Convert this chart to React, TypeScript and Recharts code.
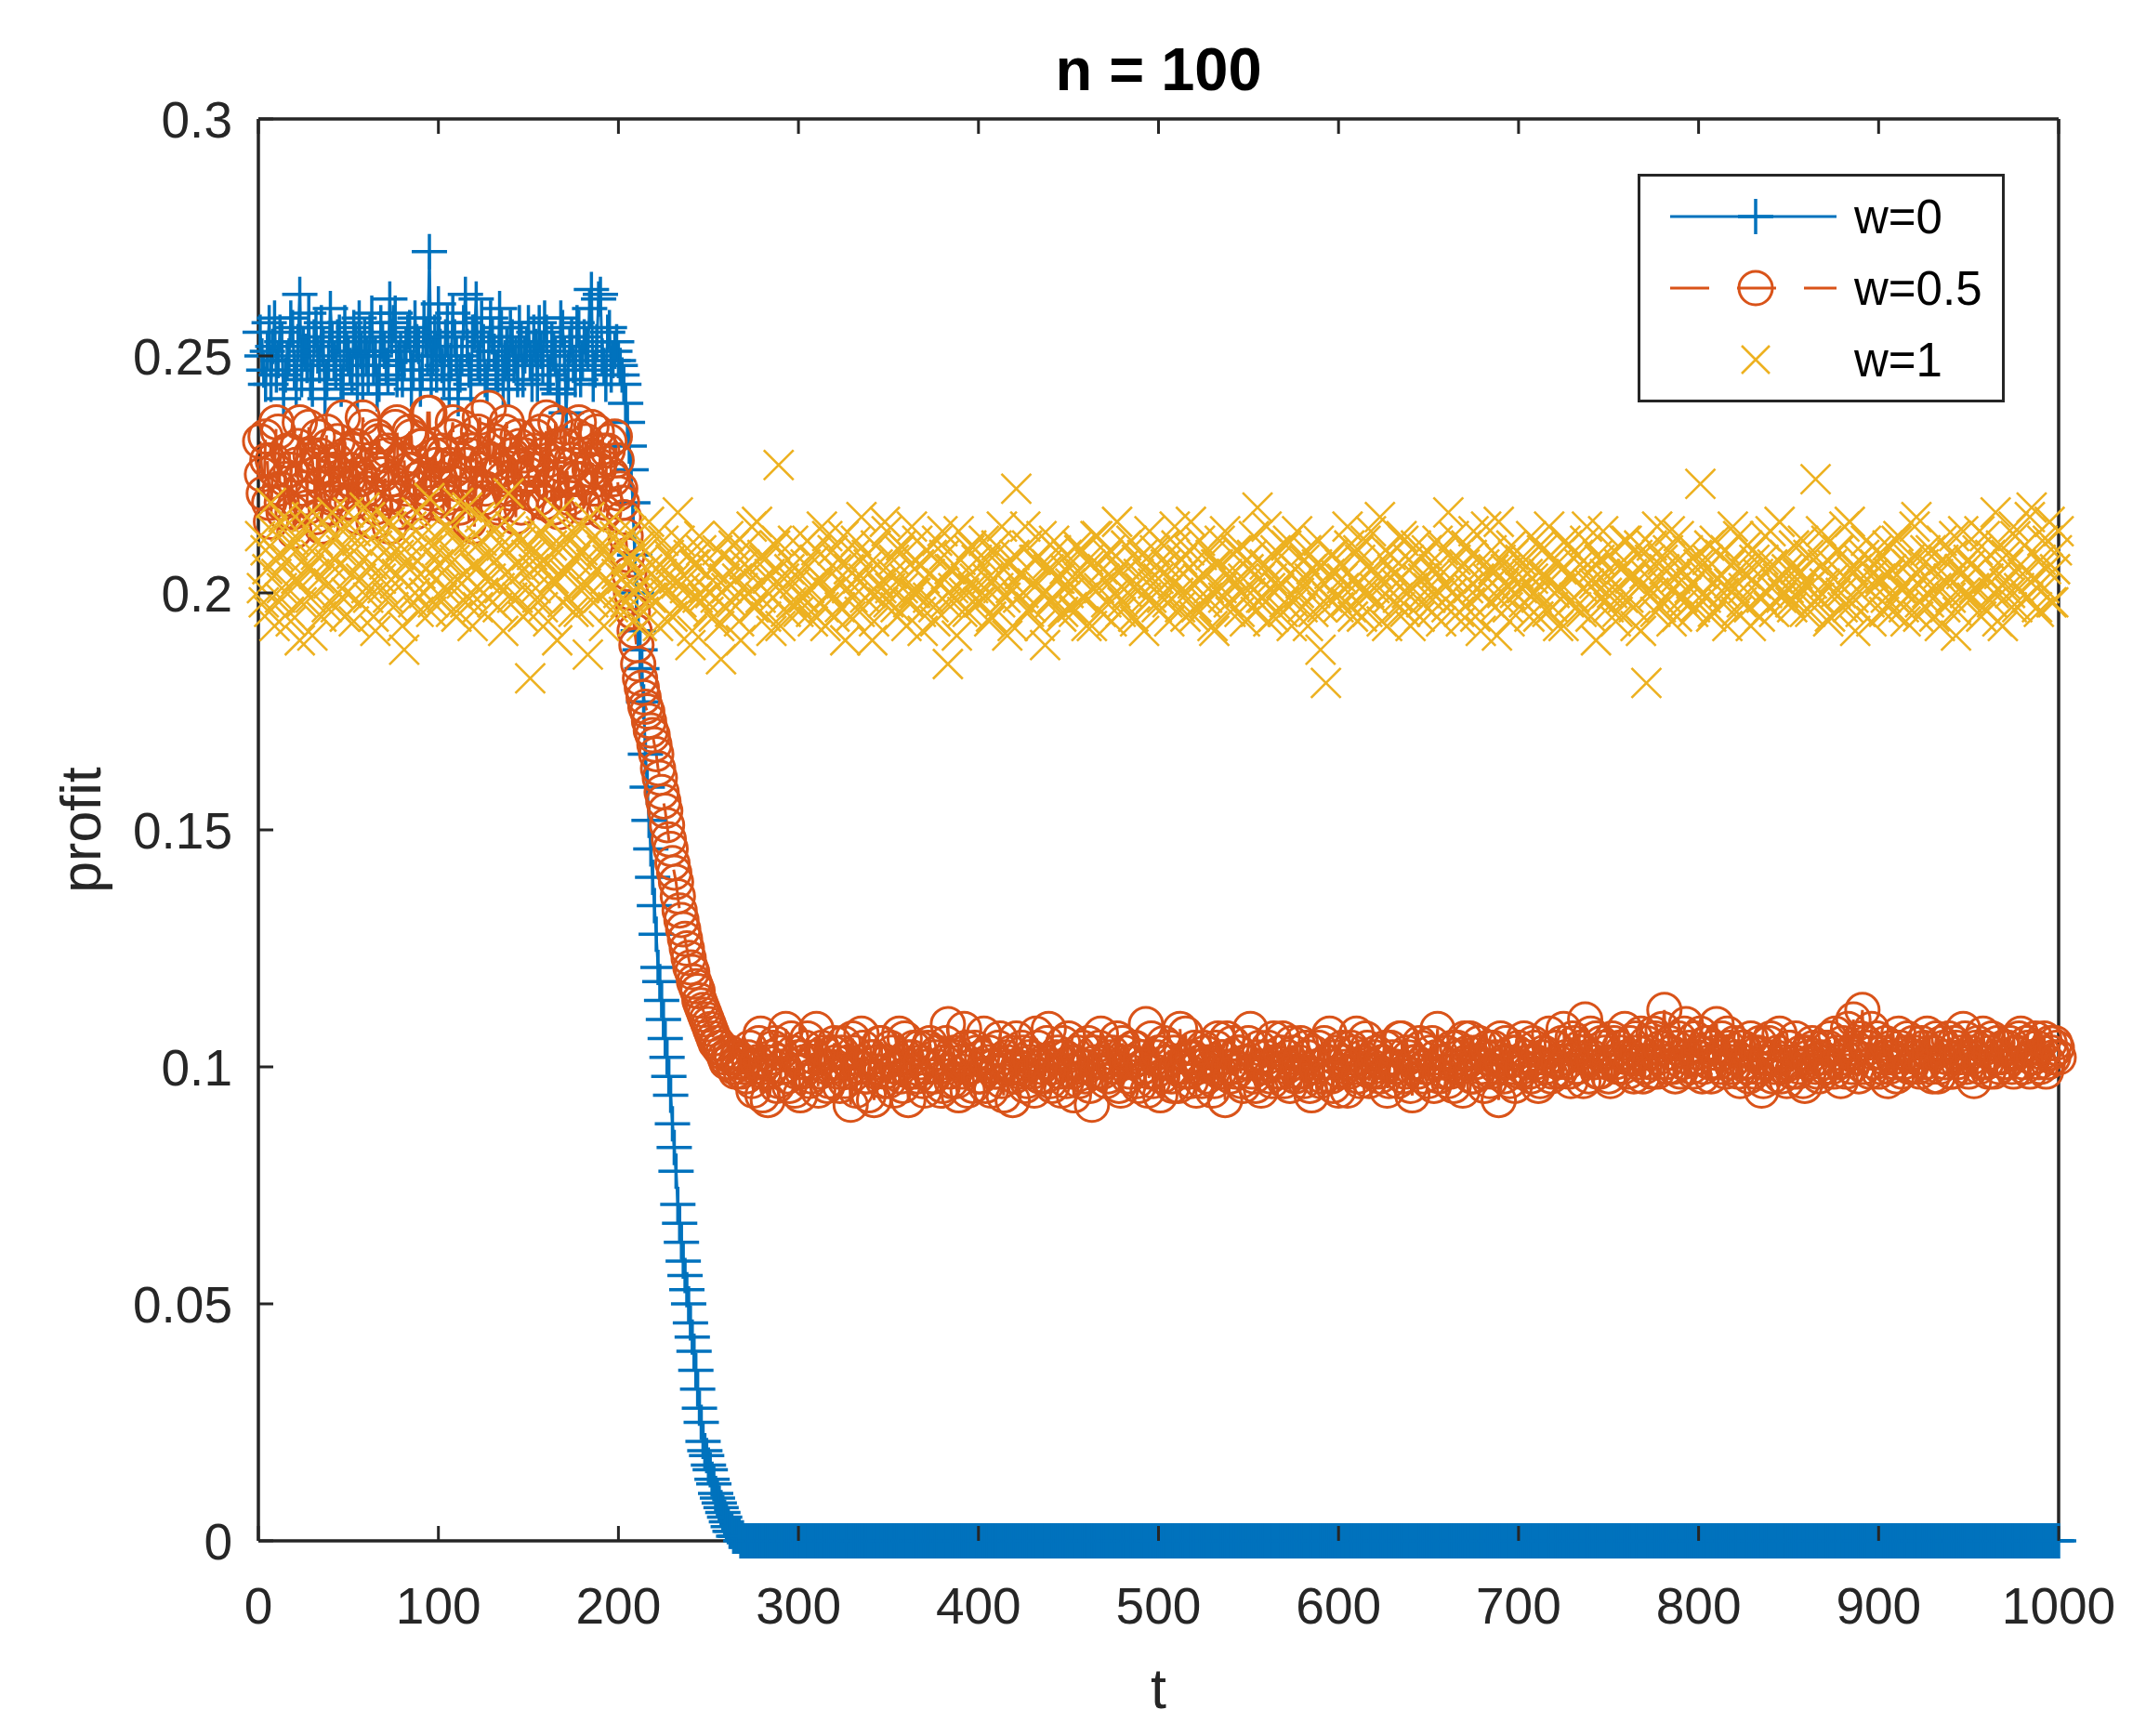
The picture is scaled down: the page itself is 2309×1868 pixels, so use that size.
import React from 'react';
import { ComposedChart, Line, XAxis, YAxis } from 'recharts';

// ---------- layout constants ----------
const CHART_W = 2309;
const CHART_H = 1868;
const MARGIN = { top: 128, right: 94, bottom: 10, left: 78 };
const Y_AXIS_W = 200;
const X_AXIS_H = 200;
const FONT = '"Liberation Sans", Arial, Helvetica, sans-serif';
const AXIS_COLOR = '#262626';
const TICK_LEN = 16;
const Y_TICK_GAP = 28;
const X_TICK_BASELINE = 89;

// ---------- data ----------
const xTicks = [0, 100, 200, 300, 400, 500, 600, 700, 800, 900, 1000];
const yTicks = [0, 0.05, 0.1, 0.15, 0.2, 0.25, 0.3];
const titleText = 'n = 100';
const xLabel = 't';
const yLabel = 'profit';
const seriesNames = ['w=0', 'w=0.5', 'w=1'];
const seriesColors = ['#0072BD', '#D95319', '#EDB120'];

// profit values in thousandths at odd t = 1, 3, 5, ..., 999
const profitW0 = [
  255,247,251,244,258,249,253,246,250,256,243,263,252,248,245,254,250,257,241,249,253,247,255,244,251,
  248,256,242,251,254,246,259,250,244,253,248,262,257,245,251,249,255,243,258,252,247,254,272,250,246,
  252,245,257,249,254,241,250,263,247,255,262,248,253,244,258,251,246,256,249,243,254,250,257,245,252,
  249,255,244,251,258,246,253,250,242,256,238,252,248,257,245,254,251,264,247,262,250,244,256,249,253,
  248,244,236,226,208,192,184,166,152,140,128,118,110,102,94,83,71,63,56,50,43,36,28,21,18,15,12,9,7,5,3,2,1,1,0,
  0,0,0,0,0,0,0,0,0,0,0,0,0,0,0,0,0,0,0,0,0,0,0,0,0,
  0,0,0,0,0,0,0,0,0,0,0,0,0,0,0,0,0,0,0,0,0,0,0,0,0,
  0,0,0,0,0,0,0,0,0,0,0,0,0,0,0,0,0,0,0,0,0,0,0,0,0,
  0,0,0,0,0,0,0,0,0,0,0,0,0,0,0,0,0,0,0,0,0,0,0,0,0,
  0,0,0,0,0,0,0,0,0,0,0,0,0,0,0,0,0,0,0,0,0,0,0,0,0,
  0,0,0,0,0,0,0,0,0,0,0,0,0,0,0,0,0,0,0,0,0,0,0,0,0,
  0,0,0,0,0,0,0,0,0,0,0,0,0,0,0,0,0,0,0,0,0,0,0,0,0,
  0,0,0,0,0,0,0,0,0,0,0,0,0,0,0,0,0,0,0,0,0,0,0,0,0,
  0,0,0,0,0,0,0,0,0,0,0,0,0,0,0,0,0,0,0,0,0,0,0,0,0,
  0,0,0,0,0,0,0,0,0,0,0,0,0,0,0,0,0,0,0,0,0,0,0,0,0,
  0,0,0,0,0,0,0,0,0,0,0,0,0,0,0,0,0,0,0,0,0,0,0,0,0,
  0,0,0,0,0,0,0,0,0,0,0,0,0,0,0,0,0,0,0,0,0,0,0,0,0,
  0,0,0,0,0,0,0,0,0,0,0,0,0,0,0,0,0,0,0,0,0,0,0,0,0,
  0,0,0,0,0,0,0,0,0,0,0,0,0,0,0,0,0,0,0,0,0,0,0,0,0,
  0,0,0,0,0,0,0,0,0,0,0,0,0,0,0,
];

// profit values in thousandths at even t = 2, 4, 6, ..., 1000
const profitW0Even = [
  250,244,257,252,246,255,241,249,258,247,253,245,251,259,243,256,248,252,245,260,249,254,243,257,250,
  246,253,258,244,250,255,248,242,257,251,246,254,259,249,245,252,256,247,253,243,258,250,245,255,261,
  248,254,243,259,250,246,257,252,244,255,249,258,245,251,254,247,260,243,252,256,248,245,253,250,257,
  244,252,257,248,255,246,251,243,258,250,247,254,245,256,249,252,260,244,253,263,248,255,246,251,249,
  246,240,231,219,200,188,177,159,146,134,121,114,106,98,88,78,67,59,53,46,40,32,25,19,16,13,10,8,6,4,2,1,1,0,0,
  0,0,0,0,0,0,0,0,0,0,0,0,0,0,0,0,0,0,0,0,0,0,0,0,0,
  0,0,0,0,0,0,0,0,0,0,0,0,0,0,0,0,0,0,0,0,0,0,0,0,0,
  0,0,0,0,0,0,0,0,0,0,0,0,0,0,0,0,0,0,0,0,0,0,0,0,0,
  0,0,0,0,0,0,0,0,0,0,0,0,0,0,0,0,0,0,0,0,0,0,0,0,0,
  0,0,0,0,0,0,0,0,0,0,0,0,0,0,0,0,0,0,0,0,0,0,0,0,0,
  0,0,0,0,0,0,0,0,0,0,0,0,0,0,0,0,0,0,0,0,0,0,0,0,0,
  0,0,0,0,0,0,0,0,0,0,0,0,0,0,0,0,0,0,0,0,0,0,0,0,0,
  0,0,0,0,0,0,0,0,0,0,0,0,0,0,0,0,0,0,0,0,0,0,0,0,0,
  0,0,0,0,0,0,0,0,0,0,0,0,0,0,0,0,0,0,0,0,0,0,0,0,0,
  0,0,0,0,0,0,0,0,0,0,0,0,0,0,0,0,0,0,0,0,0,0,0,0,0,
  0,0,0,0,0,0,0,0,0,0,0,0,0,0,0,0,0,0,0,0,0,0,0,0,0,
  0,0,0,0,0,0,0,0,0,0,0,0,0,0,0,0,0,0,0,0,0,0,0,0,0,
  0,0,0,0,0,0,0,0,0,0,0,0,0,0,0,0,0,0,0,0,0,0,0,0,0,
  0,0,0,0,0,0,0,0,0,0,0,0,0,0,0,0,0,0,0,0,0,0,0,0,0,
  0,0,0,0,0,0,0,0,0,0,0,0,0,0,0,
];

const profitW05 = [
  232,221,228,215,226,234,219,224,230,217,227,236,222,218,229,225,233,214,226,231,220,228,223,237,219,
  226,230,216,224,235,221,227,218,232,225,229,214,223,236,220,228,226,233,217,224,231,222,238,219,227,
  224,229,218,233,226,221,235,227,215,230,223,237,220,228,225,232,218,226,234,222,229,216,231,224,227,
  221,230,226,234,219,228,223,236,217,225,231,220,227,233,224,218,229,235,222,226,230,219,232,224,228,
  222,216,208,200,192,185,180,176,173,170,166,161,156,151,146,141,136,131,127,123,120,117,114,112,110,108,106,105,104,102,101,102,99,101,100,
  98,104,95,101,107,99,93,102,105,97,100,108,96,103,99,94,101,106,98,102,95,104,100,97,103,
  101,96,105,99,92,103,100,107,98,94,102,99,105,97,101,104,95,100,98,106,93,102,99,104,97,
  100,105,98,103,95,101,109,97,102,94,99,104,100,96,103,98,107,101,95,99,104,97,102,100,93,
  106,99,103,97,101,95,104,100,98,108,96,102,99,105,97,101,94,103,100,98,105,92,101,104,99,
  97,102,100,106,95,103,98,101,104,96,100,109,99,97,102,94,105,101,98,103,96,100,107,99,102,
  95,101,104,98,100,97,106,102,93,100,105,99,103,96,101,108,98,102,95,100,104,97,101,99,106,
  100,96,103,99,105,97,102,94,100,104,98,101,107,96,103,99,101,95,104,100,98,102,106,97,100,
  103,98,101,95,104,100,97,106,99,102,94,101,105,98,100,103,96,108,101,99,97,104,100,102,95,
  101,106,98,103,100,96,104,99,102,93,101,105,97,100,103,99,106,101,98,104,96,102,100,107,99,
  104,99,108,101,97,105,100,103,110,98,102,106,99,104,101,97,105,100,103,108,99,102,106,101,98,
  105,101,107,99,104,112,100,103,98,106,101,109,104,99,102,107,100,105,98,103,101,106,99,104,100,
  102,97,104,100,106,99,103,95,101,105,98,102,107,100,97,104,101,99,103,96,102,105,100,98,104,
  101,106,99,103,97,102,108,100,104,98,112,105,99,103,106,100,102,97,104,101,107,99,103,100,105,
  102,99,104,107,100,103,98,105,101,106,99,104,102,108,100,103,97,105,101,104,99,106,102,100,104,
  101,105,99,103,107,100,104,102,106,101,103,99,105,102,104,
];

const profitW05Even = [
  225,233,219,228,236,222,217,230,226,213,231,224,220,235,227,216,229,223,234,218,226,232,221,229,224,
  219,231,225,237,222,228,215,233,226,220,230,224,235,217,228,222,234,226,219,231,225,238,221,229,223,
  230,220,227,236,223,218,232,225,229,214,234,226,222,239,228,219,231,224,236,221,227,233,218,229,225,
  226,233,220,229,237,223,218,231,227,235,221,228,224,236,219,232,226,222,234,228,217,230,225,233,221,
  219,212,204,196,189,182,178,175,171,168,163,158,154,148,143,139,133,129,125,121,118,116,113,111,109,107,105,104,103,101,103,100,102,99,101,
  102,97,100,105,94,101,99,104,96,103,100,98,106,95,102,99,104,97,101,108,99,103,96,100,105,
  99,103,97,101,106,95,100,104,98,102,93,101,105,99,97,103,100,107,96,102,99,104,98,101,95,
  104,98,102,100,96,105,99,103,97,101,108,95,100,104,98,102,96,103,100,99,106,94,101,103,98,
  100,104,96,102,99,107,98,101,105,97,100,103,95,102,106,99,101,97,104,100,96,103,99,107,101,
  98,103,100,96,105,101,99,104,97,102,100,95,106,99,103,98,101,104,96,100,108,99,102,97,104,
  100,97,103,101,95,104,99,102,106,98,100,103,97,101,105,99,96,104,100,102,98,106,99,103,97,
  102,105,98,101,99,104,96,103,100,97,105,101,98,102,95,104,100,99,103,107,97,101,104,99,102,
  99,101,104,97,102,100,106,98,103,96,101,99,104,100,97,105,102,98,101,103,99,96,104,100,106,
  103,98,101,105,99,102,97,104,100,106,98,101,103,96,104,100,102,99,105,101,97,103,100,98,104,
  101,105,102,99,106,100,104,97,102,107,101,99,105,103,98,106,101,104,100,102,105,98,103,107,100,
  103,99,106,102,108,101,105,100,104,99,107,102,100,106,103,98,105,101,104,109,100,103,107,101,105,
  99,104,101,98,103,100,105,97,102,106,100,103,98,101,104,99,106,100,97,103,101,104,99,102,100,
  104,100,107,101,105,99,103,110,102,106,100,104,108,101,99,103,105,100,102,98,104,101,106,100,103,
  100,105,101,103,98,106,100,104,102,99,105,101,103,106,99,102,104,100,107,101,103,99,105,102,101,
  104,100,103,106,101,105,99,102,104,100,106,101,103,105,102,
];

const profitW1 = [
  212,198,205,219,193,208,201,214,196,210,203,190,207,216,199,204,211,195,209,202,217,197,206,213,200,
  208,194,211,203,218,199,206,192,213,201,209,215,197,204,210,188,207,214,200,196,212,205,220,198,203,
  209,201,214,196,207,219,202,198,211,193,205,216,200,208,203,213,197,210,204,221,199,206,212,195,208,
  182,205,199,213,207,194,210,202,217,198,205,211,196,208,214,201,187,206,212,199,209,203,215,197,204,
  210,196,207,213,200,204,193,209,215,199,205,202,211,194,207,203,217,198,201,208,192,206,212,199,204,
  200,195,209,186,203,212,198,206,194,201,210,205,197,215,199,207,203,192,210,227,201,196,205,211,198,
  204,199,211,196,207,202,214,193,200,209,205,197,212,201,195,208,203,216,199,206,190,210,202,198,213,
  201,207,195,210,203,198,214,200,206,192,209,204,197,211,202,208,185,205,199,213,196,203,209,201,207,
  198,211,203,195,208,201,214,199,206,193,222,204,200,210,197,207,202,212,189,205,199,209,203,196,208,
  202,196,210,204,199,207,193,212,201,205,198,209,203,215,196,206,200,211,194,204,208,199,213,202,197,
  205,210,198,203,214,200,207,195,209,202,197,211,204,199,208,192,206,201,213,198,204,209,196,203,207,
  200,212,218,199,206,194,203,209,201,196,210,204,198,213,202,207,193,205,200,211,197,181,204,208,199,
  206,201,214,197,203,209,195,211,200,205,198,216,202,193,208,204,199,212,196,207,201,210,195,203,209,
  199,205,211,194,202,217,200,207,196,204,210,198,213,201,192,206,203,209,197,215,200,205,194,208,202,
  207,198,204,212,200,195,209,203,214,197,206,201,193,210,204,199,208,196,211,202,205,190,207,213,200,
  203,209,196,205,211,199,204,193,210,202,181,207,200,214,197,205,209,194,203,212,199,206,201,196,208,
  223,200,207,195,211,203,198,209,202,214,196,205,201,210,193,207,204,199,212,197,206,202,215,200,205,
  198,210,204,201,196,208,202,224,199,206,211,195,203,209,200,214,197,205,192,207,202,211,198,204,209,
  203,196,210,205,199,212,201,194,207,203,216,198,206,200,209,195,204,211,197,203,208,191,205,213,199,
  206,201,209,195,212,203,198,217,204,193,208,200,214,197,206,210,199,218,203,196,211,205,215,198,209,
];

const profitW1Even = [
  201,209,196,213,204,199,216,207,194,211,202,198,214,205,191,208,203,215,197,206,212,200,209,195,217,
  204,213,198,207,201,216,195,210,203,206,199,214,202,208,193,211,205,198,217,204,200,209,196,212,206,
  199,207,213,202,195,210,204,218,200,206,197,211,203,215,198,207,201,192,209,214,203,199,211,205,196,
  208,201,212,197,206,215,203,190,210,204,199,213,207,196,209,202,216,198,205,210,193,207,201,212,200,
  203,198,207,194,201,210,196,205,199,212,193,204,200,208,195,202,211,197,203,189,206,199,209,201,196,
  205,199,193,208,201,196,210,203,190,206,200,214,197,202,208,195,204,199,211,193,203,207,198,202,196,
  199,206,201,194,209,203,197,212,200,195,207,202,190,205,199,211,196,203,208,200,194,206,201,215,198,
  204,197,209,201,193,206,200,211,196,203,199,208,194,202,213,198,205,201,191,207,200,196,210,203,198,
  200,207,194,203,210,198,205,191,201,208,199,204,214,196,202,207,193,200,206,198,211,203,195,205,200,
  197,204,209,199,193,206,201,212,196,203,208,194,200,205,198,210,202,195,207,201,192,204,199,209,203,
  199,206,194,202,210,197,204,200,215,195,203,208,198,201,193,206,211,199,204,196,202,209,200,194,205,
  208,196,203,199,214,201,195,207,202,198,211,193,205,200,197,209,203,196,206,188,202,199,208,204,197,
  203,198,210,195,202,207,200,196,213,201,204,194,209,199,205,202,197,211,200,193,206,203,198,208,201,
  196,204,200,209,197,203,212,199,194,206,201,208,195,203,200,214,198,205,191,207,202,197,210,200,204,
  201,207,195,203,199,210,204,196,208,200,193,205,211,198,203,197,206,201,214,195,202,208,199,204,197,
  200,194,206,199,211,203,197,208,192,204,200,210,196,203,207,199,213,201,195,205,198,209,202,197,206,
  204,199,210,196,203,208,200,193,206,201,212,198,204,197,209,202,195,207,200,213,196,203,199,208,201,
  197,205,200,211,203,196,207,199,213,202,194,206,200,209,197,203,215,199,205,196,208,201,194,206,202,
  208,199,204,196,211,201,197,206,200,214,195,203,209,198,205,201,193,207,202,199,212,196,204,200,207,
  199,205,213,197,203,208,200,194,210,202,206,197,212,201,204,199,216,203,197,207,201,211,198,205,213,
];

// table for the chart: t = 1, 2, 3, ..., 1000
const chartData: { t: number; w0: number; w05: number; w1: number }[] = [];
profitW0.forEach((v, i) => {
  chartData.push({ t: 2 * i + 1, w0: v / 1000, w05: profitW05[i] / 1000, w1: profitW1[i] / 1000 });
  chartData.push({
    t: 2 * i + 2,
    w0: profitW0Even[i] / 1000,
    w05: profitW05Even[i] / 1000,
    w1: profitW1Even[i] / 1000,
  });
});

// ---------- markers ----------
const PLUS_HALF = 19;
const CIRCLE_R = 18;
const CROSS_HALF = 16;

const plusPath = (cx: number, cy: number, h: number) =>
  `M${cx - h},${cy}H${cx + h}M${cx},${cy - h}V${cy + h}`;
const crossPath = (cx: number, cy: number, h: number) =>
  `M${cx - h},${cy - h}L${cx + h},${cy + h}M${cx - h},${cy + h}L${cx + h},${cy - h}`;

const renderPlus = (p: any) => {
  if (p.cx == null || p.cy == null) return <g key={`p${p.index}`} />;
  return (
    <path key={`p${p.index}`} d={plusPath(p.cx, p.cy, PLUS_HALF)} stroke={seriesColors[0]} strokeWidth={3.5} fill="none" />
  );
};
const renderCircle = (p: any) => {
  if (p.cx == null || p.cy == null) return <g key={`c${p.index}`} />;
  return (
    <circle key={`c${p.index}`} cx={p.cx} cy={p.cy} r={CIRCLE_R} stroke={seriesColors[1]} strokeWidth={3} fill="none" />
  );
};
const renderCross = (p: any) => {
  if (p.cx == null || p.cy == null) return <g key={`x${p.index}`} />;
  return (
    <path key={`x${p.index}`} d={crossPath(p.cx, p.cy, CROSS_HALF)} stroke={seriesColors[2]} strokeWidth={2.6} fill="none" />
  );
};

// ---------- ticks ----------
const LeftTick = (p: any) => {
  const axisX = p.x + Y_TICK_GAP;
  return (
    <g>
      <line x1={axisX} y1={p.y} x2={axisX + TICK_LEN} y2={p.y} stroke={AXIS_COLOR} strokeWidth={3} />
      <text x={p.x} y={p.y} dy="0.36em" textAnchor="end" fontSize={55} fontFamily={FONT} fill={AXIS_COLOR}>
        {String(p.payload.value)}
      </text>
    </g>
  );
};
const BottomTick = (p: any) => {
  const axisY = p.y - X_TICK_BASELINE;
  return (
    <g>
      <line x1={p.x} y1={axisY} x2={p.x} y2={axisY - TICK_LEN} stroke={AXIS_COLOR} strokeWidth={3} />
      <text x={p.x} y={p.y} textAnchor="middle" fontSize={55} fontFamily={FONT} fill={AXIS_COLOR}>
        {String(p.payload.value)}
      </text>
    </g>
  );
};
const TopTick = (p: any) => (
  <line x1={p.x} y1={p.y} x2={p.x} y2={p.y + TICK_LEN} stroke={AXIS_COLOR} strokeWidth={3} />
);
const RightTick = (p: any) => (
  <line x1={p.x} y1={p.y} x2={p.x - TICK_LEN} y2={p.y} stroke={AXIS_COLOR} strokeWidth={3} />
);

// ---------- labels ----------
const TitleLabel = (p: any) => {
  const vb = p.viewBox || {};
  return (
    <text x={vb.x + vb.width / 2} y={vb.y - 31} textAnchor="middle" fontSize={65} fontWeight="bold" fontFamily={FONT} fill="#000">
      {titleText}
    </text>
  );
};
const XLabel = (p: any) => {
  const vb = p.viewBox || {};
  return (
    <text x={vb.x + vb.width / 2} y={vb.y + 180} textAnchor="middle" fontSize={61} fontFamily={FONT} fill={AXIS_COLOR}>
      {xLabel}
    </text>
  );
};
const YLabel = (p: any) => {
  const vb = p.viewBox || {};
  const x = vb.x + 30;
  const y = vb.y + vb.height / 2;
  return (
    <text x={x} y={y} transform={`rotate(-90 ${x} ${y})`} textAnchor="middle" fontSize={61} fontFamily={FONT} fill={AXIS_COLOR}>
      {yLabel}
    </text>
  );
};

// ---------- legend ----------
const LEGEND_BOX = { left: 1762, top: 187, width: 395, height: 246 };
const legendRows = [43, 120, 197];

const LegendBox = () => (
  <div
    style={{
      position: 'absolute',
      left: LEGEND_BOX.left,
      top: LEGEND_BOX.top,
      width: LEGEND_BOX.width,
      height: LEGEND_BOX.height,
      border: `3px solid ${AXIS_COLOR}`,
      boxSizing: 'border-box',
      background: '#fff',
    }}
  >
    <svg width={LEGEND_BOX.width - 6} height={LEGEND_BOX.height - 6} style={{ display: 'block' }}>
      {seriesNames.map((name, i) => {
        const cy = legendRows[i];
        const mx = 124;
        return (
          <g key={name}>
            {i === 0 && <line x1={32} y1={cy} x2={211} y2={cy} stroke={seriesColors[0]} strokeWidth={3} />}
            {i === 1 && (
              <line x1={32} y1={cy} x2={211} y2={cy} stroke={seriesColors[1]} strokeWidth={3} strokeDasharray="42 30" />
            )}
            {i === 0 && <path d={plusPath(mx, cy, PLUS_HALF)} stroke={seriesColors[0]} strokeWidth={3.5} fill="none" />}
            {i === 1 && <circle cx={mx} cy={cy} r={CIRCLE_R} stroke={seriesColors[1]} strokeWidth={3} fill="none" />}
            {i === 2 && <path d={crossPath(mx, cy, 15)} stroke={seriesColors[2]} strokeWidth={2.6} fill="none" />}
            <text x={230} y={cy} dy="0.36em" fontSize={51} fontFamily={FONT} fill="#000">
              {name}
            </text>
          </g>
        );
      })}
    </svg>
  </div>
);

export default function App() {
  return (
    <div style={{ position: 'absolute', left: 0, top: 0, width: CHART_W, height: CHART_H, background: '#fff' }}>
      <ComposedChart width={CHART_W} height={CHART_H} data={chartData} margin={MARGIN}>
        <XAxis
          xAxisId="bottom"
          type="number"
          dataKey="t"
          domain={[0, 1000]}
          ticks={xTicks}
          interval={0}
          tickSize={0}
          tickMargin={X_TICK_BASELINE}
          tickLine={false}
          axisLine={{ stroke: AXIS_COLOR, strokeWidth: 3.5 }}
          height={X_AXIS_H}
          tick={BottomTick}
          label={<XLabel />}
        />
        <XAxis
          xAxisId="top"
          orientation="top"
          mirror
          type="number"
          dataKey="t"
          domain={[0, 1000]}
          ticks={xTicks}
          interval={0}
          tickSize={0}
          tickMargin={0}
          tickLine={false}
          axisLine={{ stroke: AXIS_COLOR, strokeWidth: 3.5 }}
          height={1}
          tick={TopTick}
          label={<TitleLabel />}
        />
        <YAxis
          yAxisId="left"
          type="number"
          domain={[0, 0.3]}
          ticks={yTicks}
          interval={0}
          tickSize={0}
          tickMargin={Y_TICK_GAP}
          tickLine={false}
          axisLine={{ stroke: AXIS_COLOR, strokeWidth: 3.5 }}
          width={Y_AXIS_W}
          tick={LeftTick}
          label={<YLabel />}
        />
        <YAxis
          yAxisId="right"
          orientation="right"
          mirror
          type="number"
          domain={[0, 0.3]}
          ticks={yTicks}
          interval={0}
          tickSize={0}
          tickMargin={0}
          tickLine={false}
          axisLine={{ stroke: AXIS_COLOR, strokeWidth: 3.5 }}
          width={1}
          tick={RightTick}
        />
        <Line
          xAxisId="bottom"
          yAxisId="left"
          type="linear"
          dataKey="w0"
          name={seriesNames[0]}
          stroke={seriesColors[0]}
          strokeWidth={3}
          dot={renderPlus}
          activeDot={false}
          isAnimationActive={false}
        />
        <Line
          xAxisId="bottom"
          yAxisId="left"
          type="linear"
          dataKey="w05"
          name={seriesNames[1]}
          stroke={seriesColors[1]}
          strokeWidth={3}
          strokeDasharray="42 30"
          dot={renderCircle}
          activeDot={false}
          isAnimationActive={false}
        />
        <Line
          xAxisId="bottom"
          yAxisId="left"
          type="linear"
          dataKey="w1"
          name={seriesNames[2]}
          stroke="none"
          dot={renderCross}
          activeDot={false}
          isAnimationActive={false}
        />
      </ComposedChart>
      <LegendBox />
    </div>
  );
}
